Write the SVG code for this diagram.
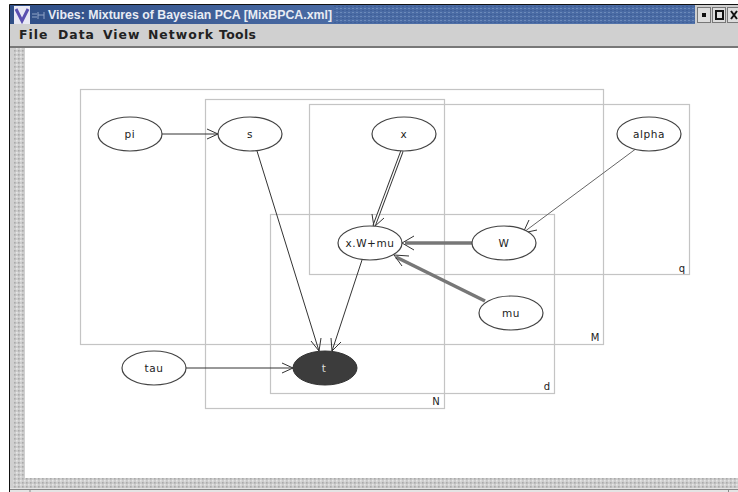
<svg xmlns="http://www.w3.org/2000/svg" width="738" height="492" viewBox="0 0 738 492">
<style>
.plate{fill:none;stroke:#c4c4c4;stroke-width:1.2}
.node{fill:#fff;stroke:#444;stroke-width:1.2}
.lab{font-family:"DejaVu Sans",sans-serif;font-size:10.5px;fill:#222;text-anchor:middle;letter-spacing:.6px}
.plab{font-family:"DejaVu Sans",sans-serif;font-size:10px;fill:#222;text-anchor:middle}
.menu{font-family:"DejaVu Sans",sans-serif;font-size:12.4px;font-weight:bold;fill:#222;letter-spacing:1px}
.e{fill:none;stroke:#333;stroke-width:1}
.g{fill:none;stroke:#666;stroke-width:1}
.d{fill:none;stroke:#333;stroke-width:3.4}
.di{fill:none;stroke:#fff;stroke-width:1.4}
.t{fill:none;stroke:#777;stroke-width:3.6}
.h{fill:none;stroke:#333;stroke-width:1}
</style>
<defs>
<linearGradient id="tb" x1="0" y1="0" x2="1" y2="0"><stop offset="0" stop-color="#2f4e86"/><stop offset=".45" stop-color="#4a6ba4"/><stop offset="1" stop-color="#5475ac"/></linearGradient>
<pattern id="grip" width="4" height="4" patternUnits="userSpaceOnUse"><rect width="4" height="4" fill="#cdcdcd"/><rect width="1.6" height="1.6" fill="#e6e6e6"/><rect x="2" y="2" width="1.6" height="1.6" fill="#aaa"/></pattern>
<pattern id="dots" width="4" height="4" patternUnits="userSpaceOnUse"><rect width="4" height="4" fill="#4a6ba4"/><rect width="2" height="1" fill="#6c8aba"/><rect x="2" y="2" width="2" height="1" fill="#3f5f98"/></pattern>
</defs>
<rect width="738" height="492" fill="#fff"/>
<g id="window">
<rect x="9" y="4" width="729" height="488" fill="#d0d0d0"/>
<path d="M9.5 492V4.5H738" fill="none" stroke="#111" stroke-width="1"/>
<rect x="10" y="5" width="728" height="19" fill="url(#tb)"/>
<rect x="334" y="5" width="361" height="18" fill="url(#dots)"/>
<rect x="14" y="6" width="16" height="18" fill="#e8e8f4"/>
<path d="M16 9 L22 21 L28 9" fill="none" stroke="#5a4fb0" stroke-width="3"/>
<path d="M32 14h5M32 17h5M38 12v7M44 12v7M38 15h6" stroke="#8fa3c6" stroke-width="1" fill="none"/>
<text x="48" y="19" font-family="Liberation Sans, sans-serif" font-size="13" font-weight="bold" fill="#e8ecf4" textLength="284" lengthAdjust="spacingAndGlyphs">Vibes: Mixtures of Bayesian PCA [MixBPCA.xml]</text>
<rect x="695" y="5" width="43" height="19" fill="#cfcfcf"/>
<g stroke="#777" fill="#ddd"><rect x="697.500" y="7.500" width="13" height="15"/><rect x="712.500" y="7.500" width="13" height="15"/><rect x="727.500" y="7.500" width="11" height="15"/></g>
<rect x="702" y="13" width="4" height="4" fill="#111"/>
<rect x="716" y="11" width="7" height="8" fill="none" stroke="#111" stroke-width="2"/>
<path d="M731 11l6 8M737 11l-6 8" stroke="#111" stroke-width="2"/>
<rect x="10" y="24" width="728" height="23" fill="#d0d0d0"/>
<text class="menu" x="19" y="39">File</text>
<text class="menu" x="58" y="39">Data</text>
<text class="menu" x="103" y="39">View</text>
<text class="menu" x="148" y="39">Network</text>
<text class="menu" x="219" y="39" textLength="38">Tools</text>
<rect x="10" y="46" width="728" height="2" fill="#777"/>
<rect x="14" y="48" width="10" height="430" fill="url(#grip)"/>
<rect x="25" y="48" width="713" height="430" fill="#fff"/>
<rect x="13" y="478" width="725" height="10" fill="url(#grip)"/>
<rect x="10" y="488" width="728" height="4" fill="#e4e4e4"/>
<path d="M10 489.500H738M30 489v3M728.500 489v3" stroke="#888" stroke-width="1" fill="none"/>
</g>
<g id="plates">
<rect class="plate" x="80.500" y="89.500" width="523" height="255"/>
<rect class="plate" x="205.500" y="99.500" width="239" height="309"/>
<rect class="plate" x="309.500" y="104.500" width="380" height="170"/>
<rect class="plate" x="270.500" y="214.500" width="284" height="179"/>
<text class="plab" x="595" y="341">M</text>
<text class="plab" x="436" y="405">N</text>
<text class="plab" x="682" y="272">q</text>
<text class="plab" x="547" y="390">d</text>
</g>
<g id="connectors">
<path class="e" d="M162 134H218"/><path class="h" d="M207 129L218 134L207 139"/>
<path class="e" d="M257 151L319 351"/><path class="h" d="M311 341L319 351L321 338"/>
<path class="d" d="M402 151L374 226"/><path class="di" d="M402 151L374 226"/><path class="h" d="M372 214L374 227L384 218"/>
<path class="g" d="M637 148L524 232"/><path class="h" d="M529 220L523 233L537 230"/>
<path class="t" d="M472 243H405"/><path class="h" d="M414 236L402 243L414 250"/>
<path class="t" d="M485 301L396 257"/><path class="h" d="M409 256L394 255L402 266"/>
<path class="e" d="M362 260L332 351"/><path class="h" d="M331 338L332 351L341 342"/>
<path class="e" d="M186 368H293"/><path class="h" d="M282 363L293 368L282 373"/>
</g>
<g id="node-pi"><ellipse class="node" cx="130" cy="134" rx="32" ry="17"/><text class="lab" x="130" y="138">pi</text></g>
<g id="node-s"><ellipse class="node" cx="250" cy="134" rx="32" ry="17"/><text class="lab" x="250" y="138">s</text></g>
<g id="node-x"><ellipse class="node" cx="404" cy="134" rx="32" ry="17"/><text class="lab" x="404" y="138">x</text></g>
<g id="node-alpha"><ellipse class="node" cx="649" cy="134" rx="32" ry="17"/><text class="lab" x="649" y="138">alpha</text></g>
<g id="node-xwmu"><ellipse class="node" cx="370" cy="243" rx="32" ry="17"/><text class="lab" x="370" y="247">x.W+mu</text></g>
<g id="node-W"><ellipse class="node" cx="504" cy="243" rx="32" ry="17"/><text class="lab" x="504" y="247">W</text></g>
<g id="node-mu"><ellipse class="node" cx="511" cy="313" rx="32" ry="17"/><text class="lab" x="511" y="317">mu</text></g>
<g id="node-tau"><ellipse class="node" cx="154" cy="368" rx="32" ry="17"/><text class="lab" x="154" y="372">tau</text></g>
<g id="node-t"><ellipse cx="325" cy="368" rx="32" ry="17" fill="#3c3c3c" stroke="#333"/><text class="lab" x="324" y="372" style="fill:#ddd">t</text></g>
</svg>
